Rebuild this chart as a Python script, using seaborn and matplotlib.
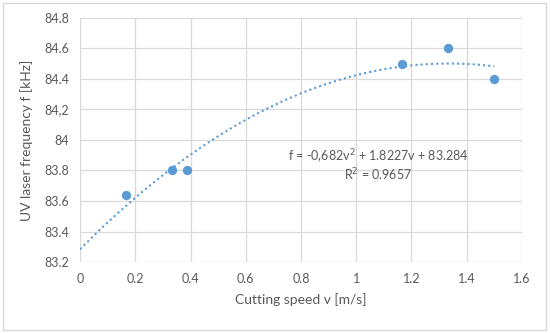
import matplotlib
matplotlib.use('Agg')
import matplotlib.pyplot as plt
import numpy as np
import seaborn as sns
from matplotlib.patches import Rectangle

# Dados
speed = [0.1667, 0.3333, 0.3889, 1.1667, 1.3333, 1.5]
freq = [83.64, 83.8, 83.8, 84.5, 84.6, 84.4]
y_ticks = [83.2, 83.4, 83.6, 83.8, 84.0, 84.2, 84.4, 84.6, 84.8]
y_labels = ['83.2', '83.4', '83.6', '83.8', '84', '84,2', '84.4', '84.6', '84.8']
x_ticks = [0, 0.2, 0.4, 0.6, 0.8, 1.0, 1.2, 1.4, 1.6]
x_labels = ['0', '0.2', '0.4', '0.6', '0.8', '1', '1.2', '1.4', '1.6']

sns.set_style('white')
plt.rcParams['font.family'] = ['Lato', 'DejaVu Sans']

blue = '#5B9BD5'
grid = '#D9D9D9'
txt = '#595959'

fig = plt.figure(figsize=(5.5, 3.33), dpi=100)
ax = fig.add_axes([0.1455, 0.2132, 0.8035, 0.7328])

# Linha de tendência polinomial (grau 2)
coef = np.polyfit(speed, freq, 2)
vv = np.linspace(0, 1.5, 100)
ax.plot(vv, np.polyval(coef, vv), color=blue, linestyle=(0, (1, 1.5)), linewidth=1.5, zorder=2)

sns.scatterplot(x=speed, y=freq, color=blue, s=45, edgecolor=blue, linewidth=0, ax=ax, zorder=3)

ax.set_xlim(0, 1.6)
ax.set_ylim(83.2, 84.8)
ax.set_xticks(x_ticks)
ax.set_xticklabels(x_labels)
ax.set_yticks(y_ticks)
ax.set_yticklabels(y_labels)
ax.grid(True, color=grid, linewidth=0.9)
ax.set_axisbelow(True)
for s in ax.spines.values():
    s.set_visible(False)
ax.tick_params(length=0, colors=txt, labelsize=9, pad=8)

ax.set_xlabel('Cutting speed v [m/s]', color=txt, fontsize=10, labelpad=6)
ax.set_ylabel('UV laser frequency f [kHz]', color=txt, fontsize=10, labelpad=8)

ax.text(1.08, 83.89, 'f = -0,682v$^2$ + 1.8227v + 83.284', color=txt, fontsize=9, ha='center', va='center')
ax.text(1.08, 83.77, 'R$^2$ = 0.9657', color=txt, fontsize=9, ha='center', va='center')

fig.patches.append(Rectangle((0.005, 0.01), 0.988, 0.98, transform=fig.transFigure,
                             fill=False, edgecolor='#D9D9D9', linewidth=1))

fig.savefig('out.png', dpi=100)
